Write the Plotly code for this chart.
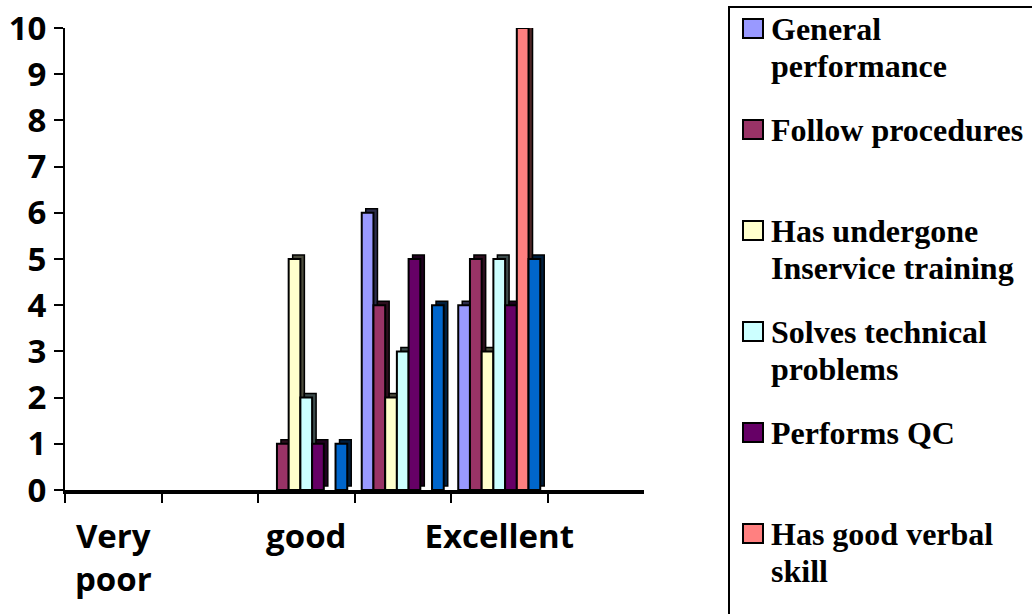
import plotly.graph_objects as go

# ---------------- data ----------------
categories = ["Very poor", "Poor", "good", "Very good", "Excellent", "Other"]
shown_tick_index = [0, 2, 4]
shown_tick_text = ["Very<br>poor", "good", "Excellent"]

series_names = [
    "General<br>performance",
    "Follow procedures",
    "Has undergone<br>Inservice training",
    "Solves technical<br>problems",
    "Performs QC",
    "Has good verbal<br>skill",
    "Series 7",
]
general_performance = [0, 0, 0, 6, 4, 0]
follow_procedures = [0, 0, 1, 4, 5, 0]
inservice_training = [0, 0, 5, 2, 3, 0]
solves_problems = [0, 0, 2, 3, 5, 0]
performs_qc = [0, 0, 1, 5, 4, 0]
verbal_skill = [0, 0, 0, 0, 10, 0]
series_7 = [0, 0, 1, 4, 5, 0]
series_values = [general_performance, follow_procedures, inservice_training,
                 solves_problems, performs_qc, verbal_skill, series_7]
series_colors = ["#9999FF", "#993366", "#FFFFCC", "#CCFFFF", "#660066", "#FF8080", "#0066CC"]
legend_count = 6  # the 7th legend entry is cut off in the original

# ---------------- layout constants ----------------
W, H = 1032, 614
ML, MR, MT, MB = 65, 388, 28, 124
PW, PH = W - ML - MR, H - MT - MB
XMAX, YMAX = len(categories), 10

def px2x(px):
    return (px - ML) / PW

def py2y(py):
    return (H - MB - py) / PH

def darker(hexcol, f=0.3):
    r, g, b = int(hexcol[1:3], 16), int(hexcol[3:5], 16), int(hexcol[5:7], 16)
    return "rgb(%d,%d,%d)" % (r * f, g * f, b * f)

bar_w = 0.1214
group_start = -0.425
depth_x = 4.0 / (PW / XMAX)
depth_y = 4.0 / (PH / YMAX)
xc = [i + 0.5 for i in range(len(categories))]

fig = go.Figure()

# 3D depth faces (drawn first, behind the fronts); zero values have no visible block
for s, (vals, col) in enumerate(zip(series_values, series_colors)):
    fig.add_trace(go.Bar(
        x=xc, y=[v if v else None for v in vals], base=depth_y, width=bar_w,
        offset=group_start + s * bar_w + depth_x,
        marker=dict(color=darker(col), line=dict(color="black", width=1.5)),
        showlegend=False, hoverinfo="skip", cliponaxis=False,
    ))

# front faces
for s, (vals, col, name) in enumerate(zip(series_values, series_colors, series_names)):
    fig.add_trace(go.Bar(
        x=xc, y=[v if v else None for v in vals], width=bar_w,
        offset=group_start + s * bar_w,
        name=name.replace("<br>", " "),
        marker=dict(color=col, line=dict(color="black", width=2)),
        showlegend=False, cliponaxis=False,
    ))

tick_font = dict(family="Open Sans", size=33, color="black", weight="bold")

fig.update_layout(
    width=W, height=H,
    margin=dict(l=ML, r=MR, t=MT, b=MB, autoexpand=False),
    barmode="overlay",
    plot_bgcolor="white", paper_bgcolor="white",
    showlegend=False,
    xaxis=dict(
        range=[0, XMAX], showgrid=False, zeroline=False, automargin=False,
        showline=True, linecolor="black", linewidth=4,
        tickvals=[xc[i] for i in shown_tick_index],
        ticktext=shown_tick_text,
        ticks="", tickfont=tick_font, ticklabelstandoff=14,
        minor=dict(tickvals=list(range(0, XMAX)), ticks="outside",
                   ticklen=9, tickwidth=2, tickcolor="black"),
    ),
    yaxis=dict(
        range=[0, YMAX], showgrid=False, zeroline=False, automargin=False,
        showline=True, linecolor="black", linewidth=2,
        tickvals=list(range(0, YMAX + 1)), ticks="outside",
        ticklen=9, tickwidth=2, tickcolor="black",
        tickfont=tick_font, ticklabelstandoff=1,
    ),
)

# manual legend (Excel-style, cropped at the bottom/right)
legend_font = dict(family="Liberation Serif, Times New Roman, serif", size=32,
                   color="black", weight="bold")
shapes = [dict(type="rect", xref="paper", yref="paper",
               x0=px2x(729), x1=px2x(W + 20), y0=py2y(7), y1=py2y(H + 20),
               line=dict(color="black", width=2), fillcolor="rgba(0,0,0,0)")]
annotations = []
for k in range(legend_count):
    top = 19 + 101 * k
    shapes.append(dict(type="rect", xref="paper", yref="paper",
                       x0=px2x(743), x1=px2x(763), y0=py2y(top), y1=py2y(top + 19),
                       line=dict(color="black", width=2), fillcolor=series_colors[k]))
    for j, line in enumerate(series_names[k].split("<br>")):
        annotations.append(dict(
            xref="paper", yref="paper", x=px2x(769), y=py2y(29 + 101 * k + 37 * j),
            xanchor="left", yanchor="middle", showarrow=False, text=line,
            font=legend_font,
        ))
fig.update_layout(shapes=shapes, annotations=annotations)

fig.write_html("out.html")
